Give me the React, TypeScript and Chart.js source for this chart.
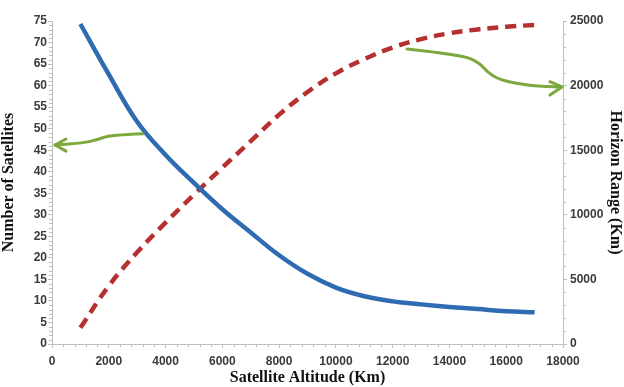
import React, { useEffect, useRef } from "react";
import { Chart, registerables } from "chart.js";

Chart.register(...registerables);

// ---- data ----
const altitudes = [1000, 2000, 3000, 4000, 5000, 6000, 7000, 8000, 9000, 10000, 11000, 12000, 13000, 14000, 15000, 16000, 17000];
const satellites = [74.3, 62.6, 51.6, 43.9, 37.4, 31.3, 25.9, 20.6, 16.3, 13.1, 11.1, 9.9, 9.2, 8.6, 8.1, 7.6, 7.4];
const horizonRange = [1250, 4500, 7100, 9400, 11550, 13650, 15700, 17750, 19500, 20950, 22050, 22950, 23600, 24050, 24350, 24550, 24700];

const xTickStep = 2000;
const yLeftTickStep = 5;
const yRightTickStep = 5000;

// annotation arrows, in (altitude, satellites) data coordinates
const arrowLeftPath = [[3205, 48.8], [2043, 48.5], [1585, 47.4], [1092, 46.7], [106, 46.2]];
const arrowLeftHead = [[493, 47.6], [106, 46.2], [493, 44.8]];
const arrowRightPath = [[12503, 68.5], [14475, 67.1], [15074, 65.2], [15320, 63.2], [15778, 61.3], [16835, 59.9], [17962, 59.7]];
const arrowRightHead = [[17540, 60.9], [17962, 59.7], [17540, 57.8]];

const BLUE = "#2e6bb1";
const RED = "#b5302e";
const GREEN = "#7ca83e";
const AXIS = "#bfbfbf";
const TICK_TEXT = "#3a3a3a";

const minorTicksAndArrows = {
  id: "minorTicksAndArrows",
  afterDraw(chart: any) {
    const ctx = chart.ctx as CanvasRenderingContext2D;
    const { x, y, y1 } = chart.scales;
    const area = chart.chartArea;
    ctx.save();
    ctx.strokeStyle = AXIS;
    ctx.lineWidth = 1;
    ctx.beginPath();
    for (let v = 0; v <= 75; v += 1) {
      if (v % yLeftTickStep === 0) continue;
      const py = Math.round(y.getPixelForValue(v)) + 0.5;
      ctx.moveTo(area.left - 3, py);
      ctx.lineTo(area.left, py);
    }
    for (let v = 0; v <= 18000; v += 400) {
      if (v % xTickStep === 0) continue;
      const px = Math.round(x.getPixelForValue(v)) + 0.5;
      ctx.moveTo(px, area.bottom);
      ctx.lineTo(px, area.bottom + 3);
    }
    for (let v = 0; v <= 25000; v += 1000) {
      if (v % yRightTickStep === 0) continue;
      const py = Math.round(y1.getPixelForValue(v)) + 0.5;
      ctx.moveTo(area.right, py);
      ctx.lineTo(area.right + 3, py);
    }
    ctx.stroke();

    const toPx = (p: number[]) => [x.getPixelForValue(p[0]), y.getPixelForValue(p[1])];
    const smooth = (pts: number[][]) => {
      const P = pts.map(toPx);
      ctx.beginPath();
      ctx.moveTo(P[0][0], P[0][1]);
      for (let i = 1; i < P.length - 1; i++) {
        const mx = (P[i][0] + P[i + 1][0]) / 2;
        const my = (P[i][1] + P[i + 1][1]) / 2;
        ctx.quadraticCurveTo(P[i][0], P[i][1], mx, my);
      }
      const last = P[P.length - 1];
      ctx.lineTo(last[0], last[1]);
      ctx.stroke();
    };
    const poly = (pts: number[][]) => {
      const P = pts.map(toPx);
      ctx.beginPath();
      ctx.moveTo(P[0][0], P[0][1]);
      for (let i = 1; i < P.length; i++) ctx.lineTo(P[i][0], P[i][1]);
      ctx.stroke();
    };
    ctx.strokeStyle = GREEN;
    ctx.lineWidth = 3;
    ctx.lineCap = "round";
    ctx.lineJoin = "round";
    smooth(arrowLeftPath);
    poly(arrowLeftHead);
    smooth(arrowRightPath);
    poly(arrowRightHead);
    ctx.restore();
  },
};

export default function App() {
  const ref = useRef<HTMLCanvasElement | null>(null);
  useEffect(() => {
    if (!ref.current) return;
    const tickFont = { family: "'Liberation Sans', Arial, sans-serif", size: 12, weight: "bold" as const };
    const titleFont = { family: "'Liberation Serif', 'Times New Roman', serif", size: 16, weight: "bold" as const, lineHeight: 1.1 };
    const chart = new Chart(ref.current, {
      type: "line",
      data: {
        labels: altitudes,
        datasets: [
          {
            label: "Number of Satellites",
            data: altitudes.map((a, i) => ({ x: a, y: satellites[i] })),
            yAxisID: "y",
            borderColor: BLUE,
            borderWidth: 4.5,
            pointRadius: 0,
            tension: 0.4,
            fill: false,
          },
          {
            label: "Horizon Range",
            data: altitudes.map((a, i) => ({ x: a, y: horizonRange[i] })),
            yAxisID: "y1",
            borderColor: RED,
            borderWidth: 4.5,
            borderDash: [11, 7],
            pointRadius: 0,
            tension: 0.4,
            fill: false,
          },
        ],
      },
      options: {
        responsive: false,
        animation: false,
        layout: { padding: { top: 21, left: 0, right: 0, bottom: 0 } },
        plugins: { legend: { display: false }, tooltip: { enabled: false } },
        scales: {
          x: {
            type: "linear",
            min: 0,
            max: 18000,
            afterFit: (s: any) => { s.height = 43; },
            ticks: { stepSize: xTickStep, font: tickFont, color: TICK_TEXT, padding: 6, maxRotation: 0, callback: (v: any) => String(v) },
            grid: { drawOnChartArea: false, drawTicks: true, tickLength: 4, color: AXIS },
            border: { color: AXIS, width: 1 },
            title: { display: true, text: "Satellite Altitude (Km)", font: titleFont, color: "#111", padding: { top: 0, bottom: 0 } },
          },
          y: {
            type: "linear",
            position: "left",
            min: 0,
            max: 75,
            afterFit: (s: any) => { s.width = 52; },
            ticks: { stepSize: yLeftTickStep, font: tickFont, color: TICK_TEXT, padding: 1, callback: (v: any) => String(v) },
            grid: { drawOnChartArea: false, drawTicks: true, tickLength: 4, color: AXIS },
            border: { color: AXIS, width: 1 },
            title: { display: true, text: "Number of Satellites", font: titleFont, color: "#111", padding: { top: 0, bottom: 0 } },
          },
          y1: {
            type: "linear",
            position: "right",
            min: 0,
            max: 25000,
            afterFit: (s: any) => { s.width = 61; },
            ticks: { stepSize: yRightTickStep, font: tickFont, color: TICK_TEXT, padding: 3, callback: (v: any) => String(v) },
            grid: { drawOnChartArea: false, drawTicks: true, tickLength: 4, color: AXIS },
            border: { color: AXIS, width: 1 },
            title: { display: true, text: "Horizon Range (Km)", font: titleFont, color: "#111", padding: { top: 0, bottom: 0 } },
          },
        },
      },
      plugins: [minorTicksAndArrows],
    } as any);
    return () => chart.destroy();
  }, []);

  return (
    <div style={{ position: "fixed", left: 0, top: 0, width: 624, height: 387, background: "#fff" }}>
      <canvas ref={ref} width={624} height={387} style={{ width: 624, height: 387, display: "block" }} />
    </div>
  );
}
